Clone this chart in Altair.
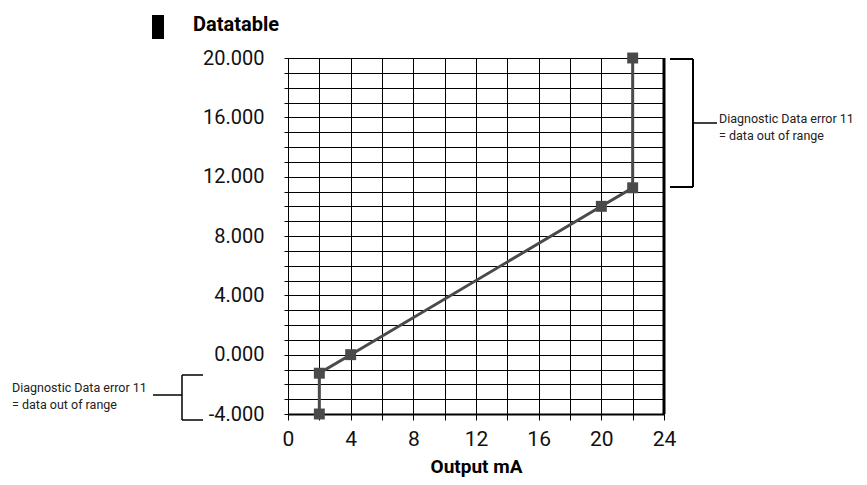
import altair as alt
import pandas as pd

# data
output_ma = [2, 2, 4, 20, 22, 22]
values = [-4.0, -1.25, 0.0, 10.0, 11.25, 20.0]
x_ticks = list(range(0, 25, 2))
y_ticks = list(range(-4, 21, 1))
note_lines = ["Diagnostic Data error 11", "= data out of range"]
title_text = "Datatable"
x_title = "Output mA"

FONT = "Roboto"
LINE_COLOR = "#4a4a4a"
W, H = 376, 356

df = pd.DataFrame({"ma": output_ma, "val": values})

xscale = alt.Scale(domain=[0, 24], nice=False, zero=False)
yscale = alt.Scale(domain=[-4, 20], nice=False, zero=False)

base = alt.Chart(df).encode(
    x=alt.X("ma:Q", scale=xscale,
            axis=alt.Axis(values=x_ticks, grid=True, gridColor="black", gridOpacity=1, gridWidth=1,
                          tickColor="black", tickSize=6, tickWidth=1,
                          domainColor="black", domainWidth=2, labelFlush=False,
                          labelExpr="datum.value % 4 == 0 ? datum.label : ''",
                          labelFont=FONT, labelFontSize=21, labelColor="#111", labelPadding=8,
                          title=x_title, titleFont=FONT, titleFontSize=19, titleFontWeight="bold",
                          titleColor="black", titlePadding=8)),
    y=alt.Y("val:Q", scale=yscale,
            axis=alt.Axis(values=y_ticks, grid=True, gridColor="black", gridOpacity=1, gridWidth=1,
                          tickColor="black", tickSize=4, tickWidth=1,
                          domainColor="black", domainWidth=1, labelFlush=False,
                          labelExpr="datum.value % 4 != 0 ? '' : (datum.value < 0 ? '-' + format(-datum.value, '.3f') : format(datum.value, '.3f'))",
                          labelFont=FONT, labelFontSize=20, labelColor="#111", labelPadding=20,
                          title=None)),
)

line = base.mark_line(color=LINE_COLOR, strokeWidth=3)
pts = base.mark_point(shape="square", filled=True, size=120, color=LINE_COLOR, opacity=1)

one = alt.Chart(pd.DataFrame({"a": [0]}))


def seg(x1, y1, x2, y2, w=2):
    return one.mark_rule(color="black", strokeWidth=w).encode(
        x=alt.value(x1), x2=alt.value(x2), y=alt.value(y1), y2=alt.value(y2))


right_border = seg(W, 0, W, H, 3)

brackets = [
    # right bracket
    seg(382, 1, 405, 1), seg(382, 129, 405, 129), seg(405, 1, 405, 129), seg(405, 65, 429, 65, 1.5),
    # left bracket
    seg(-106, 317, -85, 317, 1.5), seg(-106, 362, -85, 362, 1.5), seg(-106, 317, -106, 362, 1.5),
    seg(-135, 337, -106, 337, 1.5),
]

note_r = one.mark_text(text=note_lines, font=FONT, fontSize=12.5, lineHeight=17, align="left",
                       baseline="alphabetic", color="#222").encode(x=alt.value(431), y=alt.value(65))
note_l = one.mark_text(text=note_lines, font=FONT, fontSize=12.5, lineHeight=17, align="left",
                       baseline="alphabetic", color="#222").encode(x=alt.value(-276), y=alt.value(334))

title = one.mark_text(text=title_text, font=FONT, fontSize=20, fontWeight="bold", align="left",
                      baseline="alphabetic", color="black").encode(x=alt.value(-95), y=alt.value(-27))
title_box = one.mark_rect(color="black").encode(
    x=alt.value(-136), x2=alt.value(-124), y=alt.value(-43), y2=alt.value(-19))

chart = alt.layer(line, pts, right_border, *brackets, note_r, note_l, title, title_box).properties(
    width=W, height=H,
    autosize=alt.AutoSizeParams(type="none"),
    padding={"left": 280, "top": 50, "right": 195, "bottom": 63},
).configure_view(stroke=None).configure(background="white")

chart.save("out.html", embed_options={"renderer": "svg", "actions": False})
